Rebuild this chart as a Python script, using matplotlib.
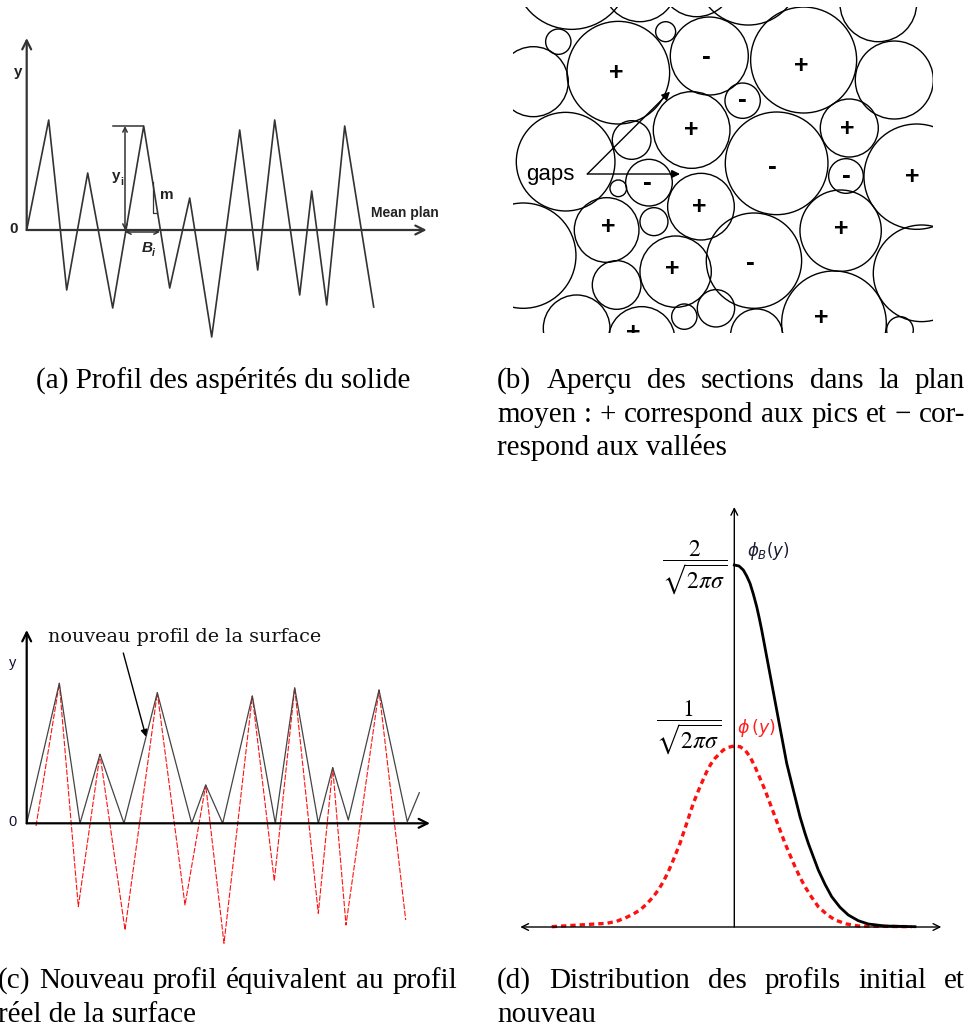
import matplotlib
matplotlib.use("Agg")
import matplotlib.pyplot as plt
from matplotlib.patches import Circle

W, H = 969, 1030

# (a) profil des aspérités, en px relatifs à l'origine
prof_a_x = [0, 22, 40, 61, 86, 117, 143, 163, 185, 213, 231, 248, 273, 285, 300, 318, 347]
prof_a_y = [0, 110, -60, 57, -78, 104, -58, 32, -107, 100, -40, 110, -65, 39, -75, 104, -77]

# (b) sections des aspérités dans le plan moyen
circ_x = [355, 175, 497, 628, 911, 1183, 1135, 728, 575, 830, 1048, 1038, 1250, 197, 100,
          215, 420, 590, 745, 395, 447, 355, 603, 462, 320, 70, 527, 762, 1022, 1265,
          350, 230, 425, 553, 648, 770, 1002, 1200]
circ_y = [218, 125, 95, 168, 180, 240, 10, 302, 390, 490, 384, 528, 530, 485, 245,
          -85, -45, -60, -80, 420, 548, 565, 620, 665, 690, 767, 815, 782, 692, 820,
          855, 985, 1020, 950, 925, 1005, 970, 990]
circ_r = [154, 38, 30, 117, 159, 117, 115, 53, 115, 154, 87, 52, 158, 148, 105,
          173, 110, 110, 155, 58, 70, 25, 100, 42, 97, 158, 107, 143, 122, 145,
          73, 100, 100, 38, 56, 78, 157, 40]
sign_x = [348, 620, 905, 727, 575, 818, 1042, 1038, 1238, 442, 598, 325, 518, 752, 1025, 965, 400]
sign_y = [220, 172, 198, 300, 390, 502, 388, 527, 532, 548, 622, 680, 808, 788, 688, 955, 1000]
sign_s = ["+", "-", "+", "-", "+", "-", "+", "-", "+", "-", "+", "+", "+", "-", "+", "+", "+"]

# (c) nouveau profil (noir) et profil réel (rouge)
new_x = [0, 32.6, 53.3, 73.3, 97.3, 130.6, 165, 179, 196, 225.6, 248.6, 268, 291.6, 306, 321.6, 352.3, 380.6, 392.6]
new_y = [0, 140, 0, 69, 0, 130.6, 0, 38.3, 0, 127.3, 0, 135.6, 0, 55.6, 3.3, 133.3, 1.6, 30.6]
real_x = [9.3, 32.6, 51.6, 73.3, 98.3, 130.6, 158.3, 179, 197.3, 225.6, 247.6, 268, 291.6, 306, 319.3, 352.3, 379]
real_y = [-2.7, 140, -83.4, 69, -106.7, 130.6, -81.7, 38.3, -120, 127.3, -57.7, 135.6, -90, 55.6, -101.7, 133.3, -96.7]

# (d) distributions phi(y) et phi_B(y)
phi_x = [-182.6, -127.6, -117.6, -107.6, -101, -94.3, -87.6, -81, -76, -71, -66, -61, -54.3, -47.6,
         -41, -34.3, -27.6, -23.6, -19.3, -11, -6, 0, 5.7, 10.7, 15.7, 20.7, 25.7, 30.7, 40.7,
         50.7, 60.7, 65.7, 70.7, 77.4, 84, 92.4, 100.7, 112.4, 124, 177.4]
phi_y = [0.3, 3.7, 5.7, 9.7, 13, 17, 23, 30.3, 37, 45.3, 55.3, 67, 83.7, 103.7,
         123.7, 140.3, 155.3, 162.7, 168.7, 177, 179.7, 181, 180.3, 177, 170.3, 160.3, 148.7, 137, 110.3,
         83.7, 60.3, 49.7, 40.3, 29.7, 20.3, 12.7, 7, 3, 1, 0.3]
phiB_x = [0, 4.7, 9, 12.4, 15.7, 19, 22.4, 25, 27.4, 32.4, 37.4, 42.4, 47.4, 52.4, 59, 65.7,
          70.7, 74, 79, 84, 90.7, 97.4, 105.7, 114, 124, 134, 150.7, 180.7]
phiB_y = [362, 361, 357, 351, 343.7, 333, 320.3, 308.7, 297, 270.3, 243.7, 217, 190.3, 163.7, 137, 110.3,
          93.7, 83.7, 70.3, 57, 42.7, 30.3, 19.7, 12, 6.3, 3, 1, 0.3]

cap_a = [("(a) Profil des aspérités du solide", False)]
cap_b = [("(b) Aperçu des sections dans la plan", True),
         ("moyen : + correspond aux pics et − cor-", True),
         ("respond aux vallées", False)]
cap_c = [("(c) Nouveau profil équivalent au profil", True),
         ("réel de la surface", False)]
cap_d = [("(d) Distribution des profils initial et", True),
         ("nouveau", False)]

SANS = "Liberation Sans"
SERIF = "Liberation Serif"

fig = plt.figure(figsize=(W / 100, H / 100), dpi=100)


def px_axes(x0, y0, x1, y1, xlim, ylim):
    ax = fig.add_axes([x0 / W, 1 - y1 / H, (x1 - x0) / W, (y1 - y0) / H])
    ax.set_xlim(*xlim)
    ax.set_ylim(*ylim)
    ax.axis("off")
    return ax


def arrow(ax, tail, tip, style="->", lw=1.5, color="k", ms=15):
    ax.annotate("", xy=tip, xytext=tail,
                arrowprops=dict(arrowstyle=style, lw=lw, color=color,
                                shrinkA=0, shrinkB=0, mutation_scale=ms))


# ---------- (a)
ax = px_axes(0, 30, 450, 350, (-26.7, 423.3), (-120, 200))
ax.plot(prof_a_x, prof_a_y, color="#333333", lw=1.2)
arrow(ax, (0, 0), (0, 192), lw=1.6, color="#333333", ms=16)
arrow(ax, (0, 0), (400, 0), lw=1.6, color="#333333", ms=16)
ax.plot([86.6, 116.6], [104, 104], color="#333333", lw=1.1)
arrow(ax, (98.3, 0), (98.3, 104), style="<->", lw=1.1, color="#333333", ms=8)
arrow(ax, (98.3, -2), (133.3, -2), style="<->", lw=1.1, color="#333333", ms=8)
ax.plot([126, 126, 130.5], [48.3, 17.3, 17.3], color="#333333", lw=0.9)
tb = dict(family=SANS, fontweight="bold", color="#222222")
ax.text(-8.7, 158, "y", fontsize=11, ha="center", va="center", **tb)
ax.text(-12.7, 1, "0", fontsize=11, ha="center", va="center", **tb)
ax.text(89.5, 54, "y", fontsize=11, ha="center", va="center", **tb)
ax.text(94, 48, "i", fontsize=7.5, ha="left", va="center", **tb)
ax.text(140, 35, "m", fontsize=11, ha="center", va="center", **tb)
ax.text(120.5, -18, "B", fontsize=11, ha="center", va="center", style="italic", **tb)
ax.text(125.5, -23, "i", fontsize=7.5, ha="left", va="center", style="italic", **tb)
ax.text(378, 17, "Mean plan", fontsize=10, ha="center", va="center", **tb)

# ---------- (b)
ax = px_axes(513.3, 6.7, 933.3, 333.3, (40, 1300), (1000, 20))
for cx, cy, r in zip(circ_x, circ_y, circ_r):
    ax.add_patch(Circle((cx, cy), r, fill=False, ec="black", lw=1.0))
for sx, sy, s in zip(sign_x, sign_y, sign_s):
    ax.text(sx, sy, s, fontsize=18 if s == "+" else 19, fontweight="bold", family=SANS,
            ha="center", va="center", clip_on=True)
ax.text(150, 525, "gaps", fontsize=16, family=SANS, ha="center", va="center")
arrow(ax, (262, 522), (510, 275), style="-|>", lw=1.0, ms=12)
arrow(ax, (262, 522), (540, 522), style="-|>", lw=1.0, ms=12)

# ---------- (c)
ax = px_axes(0, 600, 450, 950, (-26.7, 423.3), (823.3 - 950, 823.3 - 600))
ax.plot(real_x, real_y, color="#ff1010", lw=0.8, ls=(0, (5, 1.5)))
ax.plot(new_x, new_y, color="#444444", lw=0.9)
arrow(ax, (0, 0), (0, 193.3), lw=1.6, color="black", ms=16)
arrow(ax, (0, 0), (403.3, 0), lw=1.6, color="black", ms=16)
ax.text(-14, 160.3, "y", fontsize=10.5, family=SANS, color="#111133", ha="center", va="center")
ax.text(-14, 1.6, "0", fontsize=10.5, family=SANS, color="#111133", ha="center", va="center")
ax.text(21.3, 186.3, "nouveau profil de la surface", fontsize=13.8, family="DejaVu Serif",
        ha="left", va="center", color="#111111")
arrow(ax, (96.6, 170.3), (119.3, 86.6), style="-|>", lw=1.0, ms=10)

# ---------- (d)
ax = px_axes(510, 490, 960, 940, (-224.3, 225.7), (-13, 437))
ax.plot(phi_x, phi_y, color="#ff1010", lw=2.4, ls=(0, (1.6, 1.2)))
ax.plot(phiB_x, phiB_y, color="black", lw=2.0)
arrow(ax, (0, 0), (0, 420), lw=1.0, ms=12)
arrow(ax, (-214, 0), (207, 0), style="<->", lw=1.0, ms=12)
ax.text(-40, 359, r"$\dfrac{2}{\sqrt{2\pi\sigma}}$", fontsize=17, math_fontfamily="stix",
        ha="center", va="center")
ax.text(-46, 199, r"$\dfrac{1}{\sqrt{2\pi\sigma}}$", fontsize=17, math_fontfamily="stix",
        ha="center", va="center")
ax.text(34, 376, r"$\phi_B(y)$", fontsize=12, math_fontfamily="dejavusans",
        ha="center", va="center", color="#1a1a33")
ax.text(22, 199, r"$\phi\,(y)$", fontsize=12.5, math_fontfamily="dejavusans",
        ha="center", va="center", color="#ff2020")

# ---------- légendes
renderer = fig.canvas.get_renderer()


def caption(lines, x0, x1, y_base, dy=33.5, size=21):
    for k, (txt, just) in enumerate(lines):
        y = 1 - (y_base + k * dy) / H
        if not just:
            fig.text(x0 / W, y, txt, fontsize=size, family=SERIF, va="baseline")
            continue
        words = txt.split(" ")
        ts = [fig.text(0, y, w, fontsize=size, family=SERIF, va="baseline") for w in words]
        ws = [t.get_window_extent(renderer).width for t in ts]
        gap = (x1 - x0 - sum(ws)) / (len(ws) - 1)
        x = x0
        for t, w in zip(ts, ws):
            t.set_x(x / W)
            x += w + gap


caption(cap_a, 36, 414, 388)
caption(cap_b, 497, 965, 388)
caption(cap_c, -2, 457, 988)
caption(cap_d, 497, 965, 988)

fig.savefig("out.png", dpi=100)
